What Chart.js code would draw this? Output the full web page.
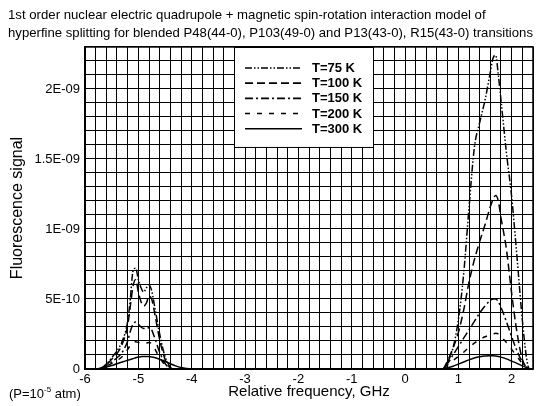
<!DOCTYPE html>
<html>
<head>
<meta charset="utf-8">
<script src="https://cdn.jsdelivr.net/npm/chart.js@4.4.1/dist/chart.umd.min.js"></script>
<style>
html,body{margin:0;padding:0;background:#fff;}
#wrap{width:539px;height:406px;position:relative;}
</style>
</head>
<body>
<div id="wrap"><canvas id="chart"></canvas></div>
<script>
/* ================= Data ================= */
// signal values in units of 1E-10
const xLeft  = [-6.0,-5.8,-5.7,-5.6,-5.5,-5.4,-5.3,-5.2,-5.15,-5.1,-5.05,-5.0,-4.95,-4.9,-4.85,-4.8,-4.75,-4.7,-4.6,-4.5,-4.4,-4.3,-4.2,-4.1,-4.0];
const xRight = [0.7,0.8,0.9,1.0,1.1,1.2,1.3,1.4,1.5,1.6,1.65,1.7,1.75,1.8,1.9,2.0,2.1,2.2,2.3,2.35,2.4];

const labels = ['T=75 K','T=100 K','T=150 K','T=200 K','T=300 K'];

const left75  = [0,0,0.05,0.35,0.8,1.3,2.0,3.4,5.0,7.0,7.2,6.4,5.8,5.5,5.8,6.0,5.6,4.6,2.5,0.9,0.15,0,0,0,0];
const left100 = [0,0,0.04,0.3,0.7,1.1,1.8,3.1,4.5,5.9,6.4,5.5,4.8,4.5,4.7,5.2,5.0,4.1,2.1,0.7,0.08,0,0,0,0];
const left150 = [0,0,0.03,0.25,0.5,0.8,1.2,2.0,2.7,3.2,3.35,3.2,3.0,2.9,2.9,2.95,2.8,2.3,1.2,0.4,0.05,0,0,0,0];
const left200 = [0,0,0.03,0.2,0.4,0.6,0.9,1.4,1.7,1.9,1.95,1.9,1.85,1.85,1.85,1.9,1.8,1.5,0.8,0.3,0.04,0,0,0,0];
const left300 = [0,0,0.08,0.15,0.25,0.38,0.5,0.62,0.68,0.74,0.8,0.85,0.88,0.9,0.9,0.89,0.86,0.82,0.7,0.55,0.38,0.22,0.1,0.03,0];

const right75  = [0,0.5,1.5,3.5,6.8,11.5,15.8,17.6,19.2,21.2,22.2,22.4,21.0,19.2,15.5,12.3,8.0,3.5,0.3,0,0];
const right100 = [0,0.6,1.5,2.6,4.2,6.2,7.8,9.1,10.3,11.6,12.1,12.4,12.0,10.8,8.6,5.4,2.6,0.7,0.05,0,0];
const right150 = [0,0.4,1.0,1.6,2.2,2.8,3.4,4.0,4.5,4.9,5.0,5.0,4.8,4.4,3.4,2.3,1.3,0.5,0.05,0,0];
const right200 = [0,0.3,0.6,0.9,1.2,1.55,1.85,2.1,2.3,2.45,2.5,2.55,2.5,2.3,1.9,1.4,0.9,0.4,0.05,0,0];
const right300 = [0,0.1,0.2,0.35,0.5,0.65,0.78,0.87,0.93,0.95,0.95,0.93,0.9,0.85,0.72,0.56,0.4,0.22,0.06,0,0];

const xTickValues = [-6,-5,-4,-3,-2,-1,0,1,2];
const xTickLabels = ['-6','-5','-4','-3','-2','-1','0','1','2'];
const yTickValues = [0,5,10,15,20];
const yTickLabels = ['0','5E-10','1E-09','1.5E-09','2E-09'];

/* ================= Helpers ================= */
const FONT = "'Liberation Sans', Arial, Helvetica, sans-serif";
const dashes = [[7,2,1.5,2,1.5,2],[8,4],[8,3,2,3],[5,7],[]];
const leftSeries  = [left75,left100,left150,left200,left300];
const rightSeries = [right75,right100,right150,right200,right300];

function points(l, r){
  return xLeft.map((x,i)=>({x, y:l[i]})).concat(xRight.map((x,i)=>({x, y:r[i]})));
}
function tickLabel(values, names){
  return v => { const i = values.findIndex(t => Math.abs(t - v) < 1e-6); return i < 0 ? '' : names[i]; };
}

/* ================ Legend, frame, note ================ */
const extras = {
  id: 'extras',
  afterDraw(chart){
    const ctx = chart.ctx, a = chart.chartArea;
    ctx.save();
    // legend box
    const x0 = a.left + 149, y0 = a.top;
    ctx.fillStyle = '#fff';
    ctx.fillRect(x0, y0, 139, 100);
    ctx.strokeStyle = '#000'; ctx.lineWidth = 1;
    ctx.strokeRect(x0 + 0.5, y0 + 0.5, 139, 100);
    ctx.font = 'bold 13px ' + FONT;
    ctx.textBaseline = 'middle';
    ctx.fillStyle = '#000';
    chart.data.datasets.forEach((ds, i) => {
      const y = y0 + 21 + i*15.2;
      ctx.setLineDash(ds.borderDash || []);
      ctx.lineWidth = 1.6;
      ctx.beginPath(); ctx.moveTo(x0 + 11, y); ctx.lineTo(x0 + 68, y); ctx.stroke();
      ctx.setLineDash([]);
      ctx.fillText(ds.label, x0 + 78, y + 0.5);
    });
    // plot frame
    ctx.lineWidth = 1.5;
    ctx.strokeRect(a.left, a.top, a.right - a.left, a.bottom - a.top);
    // pressure note
    ctx.textBaseline = 'alphabetic';
    ctx.font = '13px ' + FONT;
    let x = 9; const by = 398;
    ctx.fillText('(P=10', x, by); x += ctx.measureText('(P=10').width;
    ctx.font = '8px ' + FONT;
    ctx.fillText('-5', x, by - 6); x += ctx.measureText('-5').width;
    ctx.font = '13px ' + FONT;
    ctx.fillText(' atm)', x, by);
    ctx.restore();
  }
};

/* ================ Chart ================ */
Chart.defaults.font.family = FONT;
Chart.defaults.color = '#000';

new Chart(document.getElementById('chart'), {
  type: 'line',
  data: {
    datasets: labels.map((lb, i) => ({
      label: lb,
      data: points(leftSeries[i], rightSeries[i]),
      borderColor: '#000',
      borderWidth: 1.5,
      borderDash: dashes[i],
      pointRadius: 0,
      fill: false,
      tension: 0.4,
      cubicInterpolationMode: 'monotone'
    }))
  },
  options: {
    responsive: true,
    maintainAspectRatio: false,
    animation: false,
    layout: { padding: { left: 8, right: 6, top: 0, bottom: 0 } },
    plugins: {
      legend: { display: false },
      tooltip: { enabled: false },
      title: {
        display: true,
        align: 'start',
        text: ['1st order nuclear electric quadrupole + magnetic spin-rotation interaction model of',
               'hyperfine splitting for blended P48(44-0), P103(49-0) and P13(43-0), R15(43-0) transitions'],
        font: { size: 13.2, weight: 'normal', lineHeight: 1.4 },
        padding: { top: 6, bottom: 4 },
        color: '#000'
      }
    },
    scales: {
      x: {
        type: 'linear', min: -6, max: 2.4,
        afterFit: s => { s.height = 37; },
        ticks: { stepSize: 0.2, autoSkip: false, maxRotation: 0, padding: 3,
                 font: { size: 13 }, callback: tickLabel(xTickValues, xTickLabels) },
        grid: { color: '#000', lineWidth: 1, drawTicks: false },
        border: { display: true, color: '#000', width: 1.5 },
        title: { display: true, text: 'Relative frequency, GHz', font: { size: 15 }, padding: { top: 0, bottom: 5 } }
      },
      y: {
        min: 0, max: 23,
        afterFit: s => { s.width = 77; },
        ticks: { stepSize: 1, autoSkip: false, padding: 5,
                 font: { size: 13 }, callback: tickLabel(yTickValues, yTickLabels) },
        grid: { color: '#000', lineWidth: 1, drawTicks: false },
        border: { display: true, color: '#000', width: 1.5 },
        title: { display: true, text: 'Fluorescence signal', font: { size: 16 }, padding: { top: 0, bottom: 0 } }
      }
    }
  },
  plugins: [extras]
});
</script>
</body>
</html>
